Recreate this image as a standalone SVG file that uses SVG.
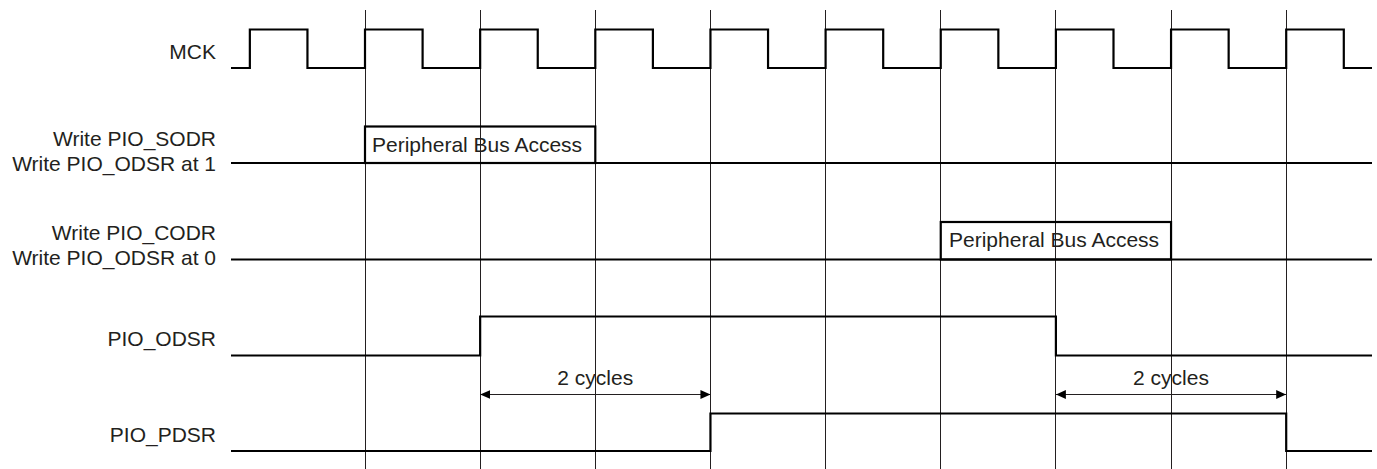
<svg xmlns="http://www.w3.org/2000/svg" width="1377" height="469" viewBox="0 0 1377 469">
<style>
.lbl{font-family:"Liberation Sans",Arial,sans-serif;font-size:21px;fill:#231f20}
.r{text-anchor:end}
.c{text-anchor:middle}
.grid{stroke:#231f20;stroke-width:1;fill:none;shape-rendering:crispEdges}
.sig{stroke:#000;stroke-width:2.2;fill:none;stroke-linejoin:miter}
.box{stroke:#000;stroke-width:2.2;fill:none}
.dim{stroke:#231f20;stroke-width:1;fill:none}
</style>
<defs>
<marker id="ah" viewBox="0 0 10 10" refX="10" refY="5" markerWidth="10" markerHeight="10" markerUnits="userSpaceOnUse" orient="auto-start-reverse">
<path d="M0,0.6 L10,5 L0,9.4 Z" fill="#000"/>
</marker>
</defs>
<rect width="1377" height="469" fill="#fff"/>
<g id="grid">
<path class="grid" d="M365,10V469M480.15,10V469M595.3,10V469M710.45,10V469M825.6,10V469M940.75,10V469M1055.9,10V469M1171.05,10V469M1286.2,10V469"/>
</g>
<g id="mck">
<text class="lbl r" x="216" y="58.5">MCK</text>
<path class="sig" d="M231,68H249.85V29.5H307.45V68H365V29.5H422.6V68H480.15V29.5H537.75V68H595.3V29.5H652.9V68H710.45V29.5H768.05V68H825.6V29.5H883.2V68H940.75V29.5H998.35V68H1055.9V29.5H1113.5V68H1171.05V29.5H1228.65V68H1286.2V29.5H1343.8V68H1372"/>
</g>
<g id="sodr">
<text class="lbl r" x="216" y="146">Write PIO_SODR</text>
<text class="lbl r" x="216" y="171">Write PIO_ODSR at 1</text>
<path class="sig" d="M231,163H1372"/>
<rect class="box" x="365" y="126.5" width="230.3" height="36.5"/>
<text class="lbl" x="372" y="152">Peripheral Bus Access</text>
</g>
<g id="codr">
<text class="lbl r" x="216" y="240">Write PIO_CODR</text>
<text class="lbl r" x="216" y="265">Write PIO_ODSR at 0</text>
<path class="sig" d="M231,259.5H1372"/>
<rect class="box" x="940.75" y="222" width="230.3" height="37.5"/>
<text class="lbl" x="949" y="247">Peripheral Bus Access</text>
</g>
<g id="odsr">
<text class="lbl r" x="216" y="346">PIO_ODSR</text>
<path class="sig" d="M231,355.5H480.15V316.5H1055.9V355.5H1372"/>
</g>
<g id="pdsr">
<text class="lbl r" x="216" y="442">PIO_PDSR</text>
<path class="sig" d="M231,451H710.45V413.5H1286.2V451H1372"/>
</g>
<g id="connectors">
<path class="dim" d="M480.15,394.5H710.45" marker-start="url(#ah)" marker-end="url(#ah)"/>
<path class="dim" d="M1055.9,394.5H1286.2" marker-start="url(#ah)" marker-end="url(#ah)"/>
<text class="lbl c" x="595.3" y="384.5">2 cycles</text>
<text class="lbl c" x="1171.05" y="384.5">2 cycles</text>
</g>
</svg>
